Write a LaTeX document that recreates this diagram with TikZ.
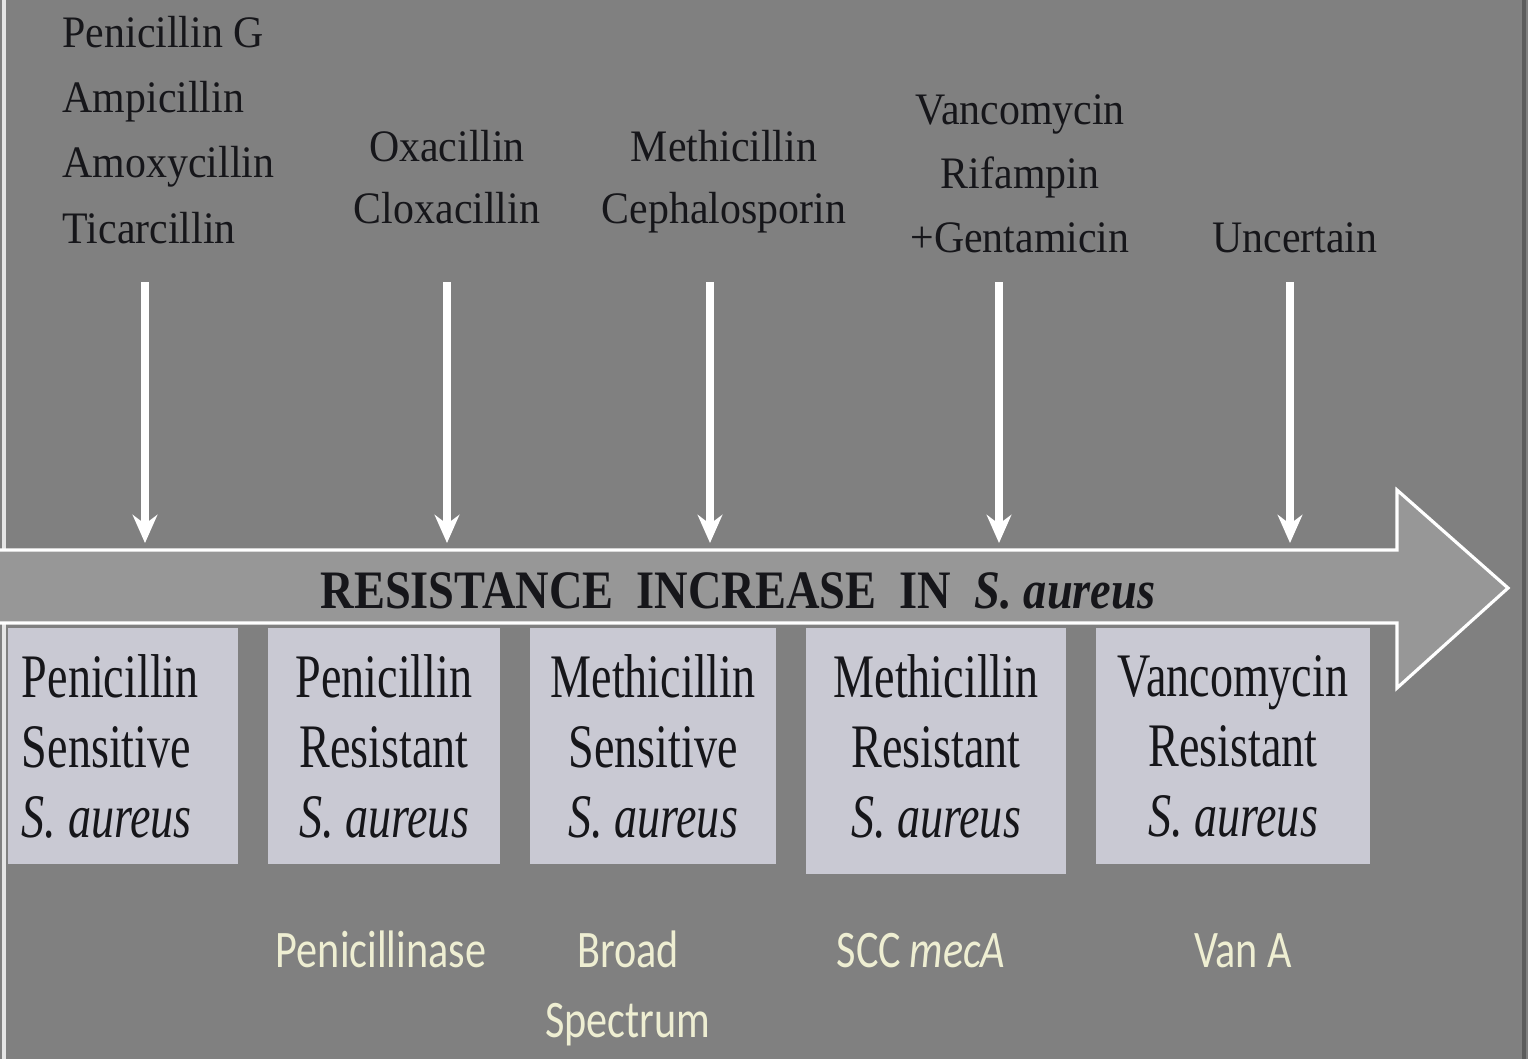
\documentclass[tikz,border=0pt]{standalone}
\usepackage{fontspec}
\setmainfont{Liberation Serif}
\newfontfamily\boxfont{Liberation Serif}[FakeStretch=0.745]
\newfontfamily\drugfont{Liberation Serif}[FakeStretch=0.93]
\newfontfamily\barfont{Liberation Serif}[FakeStretch=0.857]
\newfontfamily\genefont{Carlito}[FakeStretch=0.8]
\usetikzlibrary{arrows.meta}
\definecolor{bggray}{RGB}{128,128,128}
\definecolor{bargray}{RGB}{151,151,151}
\definecolor{boxfill}{RGB}{201,201,211}
\definecolor{genecol}{RGB}{238,238,210}
\definecolor{inkcol}{RGB}{22,22,26}
\definecolor{edgedark}{RGB}{92,92,92}

\begin{document}
\begin{tikzpicture}[x=0.01cm, y=-0.01cm,
  drug/.style={font=\drugfont\fontsize{12.8}{18.5}\selectfont, text=inkcol,
    inner sep=0pt, anchor=base, align=center},
  stage/.style={fill=boxfill, draw=none, inner sep=0pt, align=center,
    minimum height=2.36cm, text=inkcol,
    font=\boxfont\fontsize{17.6}{19.9}\selectfont},
  gene/.style={font=\genefont\fontsize{15}{19.9}\selectfont, text=genecol,
    inner sep=0pt, anchor=base, align=center},
  drop/.style={draw=white, line width=2.3pt,
    -{Stealth[width=7pt,length=8pt]}},
  bar/.style={fill=bargray, draw=white, line width=0.9pt}
]
% canvas
\useasboundingbox (0,0) rectangle (1528,1059);
\fill[bggray] (0,0) rectangle (1528,1059);
\draw[white!80!bggray, line width=1.1pt] (4,0) -- (4,1059);
\draw[edgedark, line width=0.9pt] (1524,0) -- (1524,1059);

% drugs used at each stage (anchored on the baseline of the last line)
\node[drug, anchor=base west, align=left] (d1) at (62,243)
  {Penicillin G\\Ampicillin\\Amoxycillin\\Ticarcillin};
\node[drug, font=\drugfont\fontsize{12.8}{17.4}\selectfont] (d2) at (447,223)
  {Oxacillin\\Cloxacillin};
\node[drug, font=\drugfont\fontsize{12.8}{17.4}\selectfont] (d3) at (724,223)
  {Methicillin\\Cephalosporin};
\node[drug, font=\drugfont\fontsize{12.8}{18.2}\selectfont] (d4) at (1020,252)
  {Vancomycin\\Rifampin\\+Gentamicin};
\node[drug] (d5) at (1295,252) {Uncertain};

% the resistance arrow
\path[bar] (0,550) -- (1397,550) -- (1397,490) -- (1508,588)
  -- (1397,688) -- (1397,623) -- (0,623);
\node[font=\barfont\bfseries\fontsize{15.4}{18}\selectfont, text=inkcol,
  inner sep=0pt, anchor=base] (title) at (738,608)
  {RESISTANCE\ \ INCREASE\ \ IN\ \ \textit{S. aureus}};

% drug arrows
\foreach \i/\x in {1/145, 2/447, 3/710, 4/999, 5/1290} {
  \coordinate (s\i) at (\x,282);
  \coordinate (e\i) at (\x,543);
  \draw[drop] (s\i) -- (e\i);
}

% stages of resistance
\node[stage, minimum width=2.30cm, text width=2.02cm, align=flush left] (b1)
  at (123,746) {Penicillin\\Sensitive\\\textit{S. aureus}};
\node[stage, minimum width=2.32cm] (b2) at (384,746)
  {Penicillin\\Resistant\\\textit{S. aureus}};
\node[stage, minimum width=2.46cm] (b3) at (653,746)
  {Methicillin\\Sensitive\\\textit{S. aureus}};
\fill[boxfill] (806,850) rectangle (1066,874);
\node[stage, minimum width=2.60cm] (b4) at (936,746)
  {Methicillin\\Resistant\\\textit{S. aureus}};
\node[stage, minimum width=2.74cm] (b5) at (1233,746)
  {Vancomycin\\Resistant\\\textit{S. aureus}};

% resistance mechanisms
\node[gene] (g1) at (381,967) {Penicillinase};
\node[gene, font=\genefont\fontsize{15}{19.9}\selectfont] (g2) at (628,1037)
  {Broad\\Spectrum};
\node[gene] (g3) at (921,967) {SCC\,\textit{mecA}};
\node[gene] (g4) at (1243,967) {Van A};
\end{tikzpicture}
\end{document}
